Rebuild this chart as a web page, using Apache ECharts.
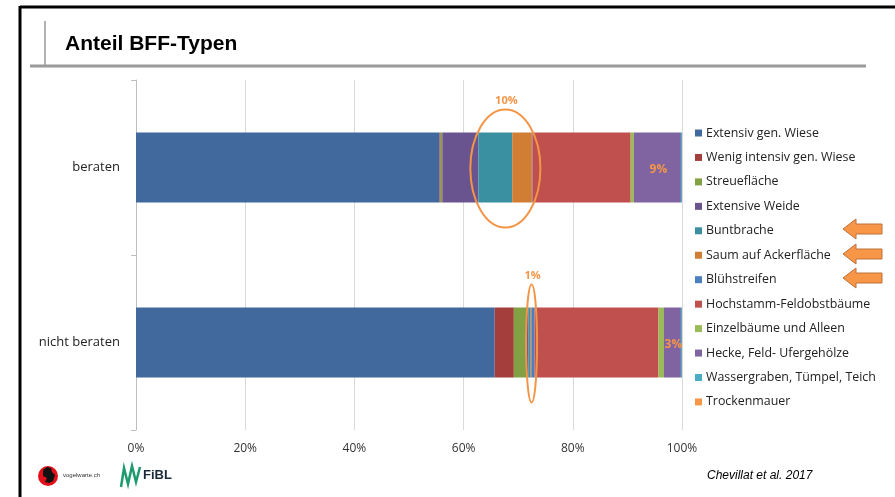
<!DOCTYPE html>
<html>
<head>
<meta charset="utf-8">
<script src="https://cdn.jsdelivr.net/npm/echarts@6/dist/echarts.min.js"></script>
<style>
html,body{margin:0;padding:0;background:#fff;}
#chart{width:895px;height:497px;}
</style>
</head>
<body>
<div id="chart"></div>
<script>
const categories = ['beraten', 'nicht beraten'];
const seriesNames = [
  'Extensiv gen. Wiese', 'Wenig intensiv gen. Wiese', 'Streuefläche', 'Extensive Weide',
  'Buntbrache', 'Saum auf Ackerfläche', 'Blühstreifen', 'Hochstamm-Feldobstbäume',
  'Einzelbäume und Alleen', 'Hecke, Feld- Ufergehölze', 'Wassergraben, Tümpel, Teich', 'Trockenmauer'
];
const valuesBeraten      = [55.6, 0.2, 0.3, 6.6, 6.2, 3.6, 0.1, 18.0, 0.6, 8.6, 0.2, 0.0];
const valuesNichtBeraten = [65.7, 3.5, 2.3, 0.4, 0.3, 0.2, 0.6, 22.7, 1.0, 3.1, 0.2, 0.0];
const seriesColors = ['#41699D', '#A43E3C', '#82A044', '#6A5490', '#3A8FA0', '#D27D34',
  '#4A7FC1', '#C0504D', '#9BBB59', '#8064A2', '#4BACC6', '#F79646'];
const xTicks = [0, 20, 40, 60, 80, 100];
const annotations = [
  {label: '10%', cat: 0, from: 4, to: 6, pad: 8},
  {label: '1%',  cat: 1, from: 4, to: 6, pad: 2}
];
const insideLabels = [
  {label: '9%', cat: 0, idx: 9},
  {label: '3%', cat: 1, idx: 9}
];

const ORANGE = '#F39547';
const FONT = '"Open Sans", "Noto Sans", sans-serif';

const chart = echarts.init(document.getElementById('chart'));

const series = seriesNames.map((name, i) => ({
  name: name,
  type: 'bar',
  stack: 'total',
  barWidth: '40%',
  itemStyle: {color: seriesColors[i]},
  emphasis: {disabled: true},
  data: [valuesBeraten[i], valuesNichtBeraten[i]]
}));

const option = {
  animation: false,
  backgroundColor: '#ffffff',
  textStyle: {fontFamily: FONT},
  grid: {left: 136, right: 213, top: 80, bottom: 67, containLabel: false},
  xAxis: {
    type: 'value', min: xTicks[0], max: xTicks[xTicks.length - 1], interval: 20,
    axisLine: {show: false}, axisTick: {show: false},
    splitLine: {lineStyle: {color: '#D9D9D9', width: 1}},
    axisLabel: {formatter: '{value}%', color: '#333', fontSize: 12, fontFamily: FONT, margin: 13}
  },
  yAxis: {
    type: 'category', data: categories, inverse: true,
    axisLine: {lineStyle: {color: '#BFBFBF'}},
    axisTick: {show: true, length: 5, lineStyle: {color: '#BFBFBF'}},
    axisLabel: {color: '#222', fontSize: 13, fontFamily: FONT, margin: 16}
  },
  legend: {
    orient: 'vertical', left: 690, top: 121,
    icon: 'rect', itemWidth: 7, itemHeight: 7, itemGap: 10.45,
    selectedMode: false,
    textStyle: {fontSize: 12.4, color: '#222', fontFamily: FONT, lineHeight: 14, padding: [0, 0, 0, -1]},
    data: seriesNames
  },
  series: series,
  graphic: []
};
chart.setOption(option);

// Decorations: frame, title, logos, source
const g = [];
const Z = 100;
g.push({type: 'line', z: Z, shape: {x1: 20, y1: 7, x2: 895, y2: 7}, style: {stroke: '#000', lineWidth: 3}, silent: true});
g.push({type: 'line', z: Z, shape: {x1: 20, y1: 6, x2: 20, y2: 497}, style: {stroke: '#000', lineWidth: 3}, silent: true});
g.push({type: 'line', z: Z, shape: {x1: 30, y1: 66, x2: 866, y2: 66}, style: {stroke: '#9A9A9A', lineWidth: 3}, silent: true});
g.push({type: 'line', z: Z, shape: {x1: 45, y1: 21, x2: 45, y2: 66}, style: {stroke: '#9A9A9A', lineWidth: 1.5}, silent: true});
g.push({type: 'text', z: Z, left: 65, top: 34, style: {text: 'Anteil BFF-Typen', font: 'bold 21px "Liberation Sans", Arial, sans-serif', fill: '#000'}, silent: true});
g.push({type: 'text', z: Z, left: 707, top: 470, style: {text: 'Chevillat et al. 2017', font: 'italic 12px "Liberation Sans", Arial, sans-serif', fill: '#000'}, silent: true});
// vogelwarte logo
g.push({type: 'circle', z: Z, shape: {cx: 48, cy: 476, r: 10}, style: {fill: '#E3101A'}, silent: true});
g.push({type: 'polygon', z: Z, shape: {points: [[43,470],[47,467],[51,468],[52,472],[55,475],[53,481],[49,483],[45,482],[47,478],[43,476]]}, style: {fill: '#111'}, silent: true});
g.push({type: 'text', z: Z, left: 63, top: 472, style: {text: 'vogelwarte.ch', font: '6px "Liberation Sans", Arial, sans-serif', fill: '#333'}, silent: true});
// FiBL logo
g.push({type: 'polyline', z: Z, shape: {points: [[121,487],[124,468],[128,484],[132,466],[136,482],[140,467]]}, style: {stroke: '#1E9B6E', lineWidth: 2.5, fill: null}, silent: true});
g.push({type: 'text', z: Z, left: 143, top: 469, style: {text: 'FiBL', font: 'bold 13px "Liberation Sans", Arial, sans-serif', fill: '#1a2a3a'}, silent: true});
// arrows next to legend items
[229, 254, 278].forEach(y => {
  g.push({type: 'polygon', z: Z, shape: {points: [[843, y], [856, y - 10], [856, y - 5], [882, y - 5], [882, y + 5], [856, y + 5], [856, y + 10]]},
    style: {fill: '#F79646', stroke: '#C0713A', lineWidth: 1}, silent: true});
});

// Annotations tied to the data through the chart's scales
function cumStart(vals, idx) { let s = 0; for (let i = 0; i < idx; i++) s += vals[i]; return s; }
const allVals = [valuesBeraten, valuesNichtBeraten];
annotations.forEach(a => {
  const vals = allVals[a.cat];
  const x0 = cumStart(vals, a.from);
  const x1 = cumStart(vals, a.to + 1);
  const p0 = chart.convertToPixel({gridIndex: 0}, [x0, categories[a.cat]]);
  const p1 = chart.convertToPixel({gridIndex: 0}, [x1, categories[a.cat]]);
  const cx = (p0[0] + p1[0]) / 2;
  const cy = p0[1] + 1;
  const rx = Math.max((p1[0] - p0[0]) / 2 + a.pad, 5.5);
  g.push({type: 'ellipse', z: Z, shape: {cx: cx, cy: cy, rx: rx, ry: 59}, style: {stroke: ORANGE, lineWidth: 2, fill: null}, silent: true});
  g.push({type: 'text', z: Z, x: cx + 1, y: cy - 68, style: {text: a.label, font: 'bold 11px "Open Sans", sans-serif', fill: ORANGE, align: 'center', verticalAlign: 'middle'}, silent: true});
});
insideLabels.forEach(a => {
  const vals = allVals[a.cat];
  const x0 = cumStart(vals, a.idx);
  const x1 = cumStart(vals, a.idx + 1);
  const p0 = chart.convertToPixel({gridIndex: 0}, [x0, categories[a.cat]]);
  const p1 = chart.convertToPixel({gridIndex: 0}, [x1, categories[a.cat]]);
  g.push({type: 'text', z: Z, x: (p0[0] + p1[0]) / 2 + 1, y: p0[1] + 2, style: {text: a.label, font: 'bold 12px "Open Sans", sans-serif', fill: ORANGE, align: 'center', verticalAlign: 'middle'}, silent: true});
});

chart.setOption({graphic: g});
</script>
</body>
</html>
